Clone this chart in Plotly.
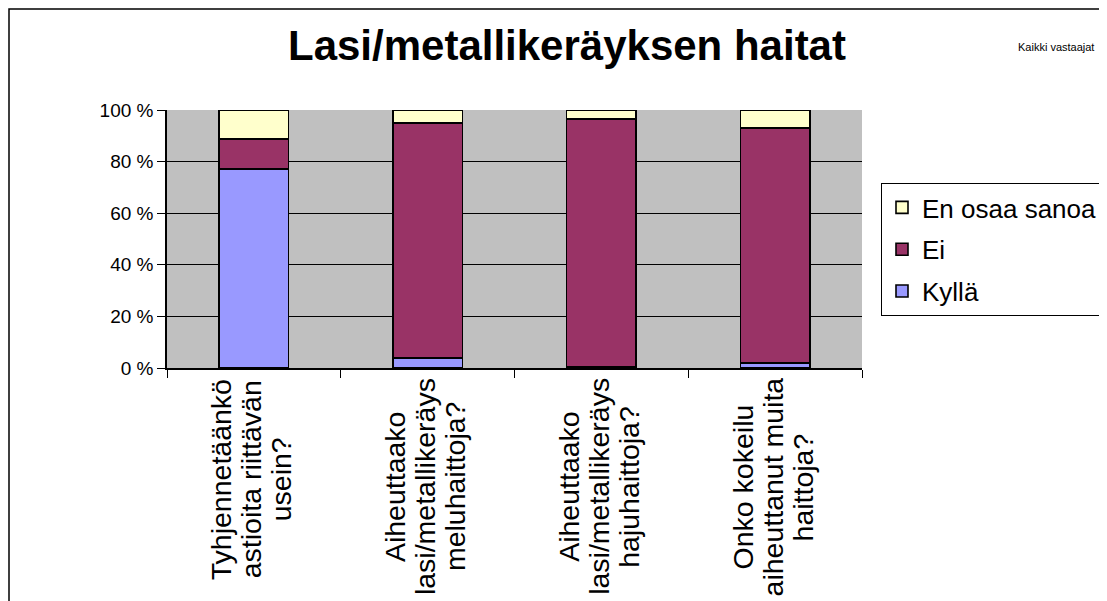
import plotly.graph_objects as go

# ---- data ----
categories = [
    "Tyhjennetäänkö astioita riittävän usein?",
    "Aiheuttaako lasi/metallikeräys meluhaittoja?",
    "Aiheuttaako lasi/metallikeräys hajuhaittoja?",
    "Onko kokeilu aiheuttanut muita haittoja?",
]
label_lines = [
    ["Tyhjennetäänkö", "astioita riittävän", "usein?"],
    ["Aiheuttaako", "lasi/metallikeräys", "meluhaittoja?"],
    ["Aiheuttaako", "lasi/metallikeräys", "hajuhaittoja?"],
    ["Onko kokeilu", "aiheuttanut muita", "haittoja?"],
]
kylla = [77.2, 3.8, 0.6, 1.9]
ei = [11.6, 91.2, 95.9, 91.1]
eos = [11.2, 5.0, 3.5, 7.0]
y_ticks = [0, 20, 40, 60, 80, 100]

title_text = "Lasi/metallikeräyksen haitat"
subtitle_text = "Kaikki vastaajat"

FONT = "Liberation Sans, Arial, sans-serif"

# plot area in figure pixels
L, T, R, B = 159, 102, 854, 360
FW, FH = 1107, 601

fig = go.Figure()
series = [("Kyllä", kylla, "#9999FF", 3), ("Ei", ei, "#993366", 2), ("En osaa sanoa", eos, "#FFFFCC", 1)]
for name, vals, col, rank in series:
    fig.add_trace(go.Bar(
        x=categories, y=vals, name=name, legendgroup=name, legendrank=rank,
        marker=dict(color=col, line=dict(color="black", width=1.6)),
        width=0.4,
    ))

# approximate Arial glyph widths (em) for centring rotated label blocks
W = {c: 0.556 for c in "abdeghnopquäö?"}
W.update({"c": 0.5, "k": 0.5, "s": 0.5, "v": 0.5, "x": 0.5, "y": 0.5, "z": 0.5,
          "f": 0.278, "t": 0.278, "/": 0.278, " ": 0.278, "i": 0.222, "j": 0.222,
          "l": 0.222, "r": 0.333, "m": 0.833, "w": 0.722, "A": 0.667, "O": 0.778,
          "T": 0.611, "K": 0.667, "E": 0.667})

def text_w(s, size):
    return sum(W.get(ch, 0.556) for ch in s) * size

def px_x(p):
    return (p - L) / (R - L)

def px_y(p):
    return (B - p) / (B - T)

LABEL_SIZE = 28.5
annotations = []
for cat, lines in zip(categories, label_lines):
    longest = max(text_w(s, LABEL_SIZE) for s in lines)
    n = len(lines)
    for i, line in enumerate(lines):
        annotations.append(dict(
            x=cat, xref="x", y=0, yref="paper", text=line, showarrow=False,
            textangle=-90, xanchor="center", yanchor="middle",
            xshift=(i - (n - 1) / 2) * 30 - 2, yshift=-(10 + longest / 2),
            font=dict(family=FONT, size=LABEL_SIZE, color="black"),
        ))

annotations.append(dict(
    x=px_x(559), xref="paper", y=px_y(37), yref="paper", text="<b>" + title_text + "</b>",
    showarrow=False, xanchor="center", yanchor="middle",
    font=dict(family=FONT, size=42, color="black"),
))
annotations.append(dict(
    x=px_x(1048), xref="paper", y=px_y(39), yref="paper", text=subtitle_text,
    showarrow=False, xanchor="center", yanchor="middle",
    font=dict(family=FONT, size=11, color="black"),
))

fig.update_layout(
    width=FW, height=FH,
    margin=dict(l=L, r=FW - R, t=T, b=FH - B, autoexpand=False),
    barmode="stack",
    paper_bgcolor="white", plot_bgcolor="#C0C0C0",
    font=dict(family=FONT, color="black"),
    showlegend=True,
    legend=dict(
        x=px_x(873), xanchor="left", y=px_y(175), yanchor="top",
        traceorder="grouped", tracegroupgap=5,
        font=dict(family=FONT, size=26, color="black"),
        bgcolor="white", bordercolor="black", borderwidth=1,
    ),
    annotations=annotations,
    shapes=[dict(type="rect", xref="paper", yref="paper",
                 x0=px_x(1), x1=px_x(1130),
                 y0=px_y(640), y1=px_y(1),
                 line=dict(color="black", width=1.5), fillcolor="rgba(0,0,0,0)", layer="below")],
)
fig.update_xaxes(
    type="category", range=[-0.5, 3.5], showticklabels=False,
    tickson="boundaries", ticks="outside", ticklen=8, tickcolor="black", tickwidth=1,
    showline=True, linecolor="black", linewidth=1.5, showgrid=False,
)
fig.update_yaxes(
    range=[0, 100], tickvals=y_ticks, ticktext=[f"{v} %" for v in y_ticks],
    ticks="outside", ticklen=8, tickcolor="black", tickwidth=1,
    showline=True, linecolor="black", linewidth=1.5,
    showgrid=True, gridcolor="black", gridwidth=1, zeroline=False,
    tickfont=dict(family=FONT, size=19, color="black"),
)

fig.write_html("out.html")
